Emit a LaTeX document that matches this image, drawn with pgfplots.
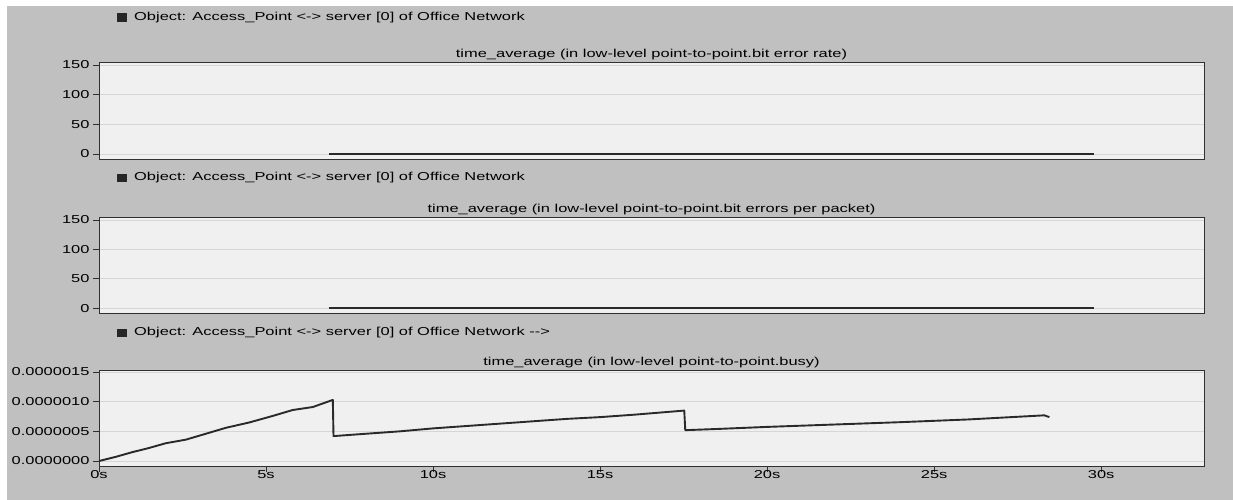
\documentclass[border=0pt]{standalone}
\usepackage{pgfplots}
\pgfplotsset{compat=1.18}
\usepackage{fontspec}
\setmainfont{Liberation Sans}
\usepackage{graphicx}
\definecolor{bggray}{HTML}{C0C0C0}
\definecolor{plotbg}{HTML}{F0F0F0}
\definecolor{gridc}{HTML}{D6D6D6}
\definecolor{framec}{HTML}{303030}
\definecolor{linec}{HTML}{2A2A2A}
\newcommand{\T}[1]{\scalebox{1.43}[1]{#1}}
\newcommand{\F}{\fontsize{11.5}{13}\selectfont}
\pgfplotsset{
  panel/.style={
    scale only axis, width=1105pt,
    xmin=0, xmax=33.08,
    anchor=north west,
    axis background/.style={fill=plotbg},
    axis line style={framec, line width=0.9pt},
    ymajorgrids, grid style={gridc, line width=0.8pt},
    tick align=outside,
    tick style={framec, line width=0.8pt},
    major tick length=6pt,
    xtick pos=bottom, ytick pos=left,
    tick label style={font=\F, text=black},
    scaled y ticks=false,
    title style={at={(0.5,1)}, anchor=center, yshift=1pt, inner sep=0pt, font=\F},
    clip=false,
  }
}
\begin{document}
\begin{tikzpicture}
\fill[white] (0,0) rectangle (1233pt,-500pt);
\fill[bggray] (7pt,-6pt) rectangle (1233pt,-500pt);

% headers
\fill[black!85] (117pt,-13.5pt) rectangle (127pt,-22pt);
\node[anchor=west, inner sep=0pt, font=\F] at (134pt,-18pt) {\T{Object: Access\_Point <-> server [0] of Office Network}};
\fill[black!85] (117pt,-173.5pt) rectangle (127pt,-182pt);
\node[anchor=west, inner sep=0pt, font=\F] at (134pt,-178pt) {\T{Object: Access\_Point <-> server [0] of Office Network}};
\fill[black!85] (117pt,-328.5pt) rectangle (127pt,-337pt);
\node[anchor=west, inner sep=0pt, font=\F] at (134pt,-333pt) {\T{Object: Access\_Point <-> server [0] of Office Network -{}->}};

% panel 1
\begin{axis}[panel, at={(99pt,-62pt)}, height=97pt,
  ymin=-8.4, ymax=155,
  ytick={0,50,100,150}, yticklabels={\T{0},\T{50},\T{100},\T{150}},
  xtick=\empty,
  title={\T{time\_average (in low-level point-to-point.bit error rate)}}]
\addplot[linec, line width=1.5pt] coordinates {(6.89,0) (29.8,0)};
\end{axis}

% panel 2
\begin{axis}[panel, at={(99pt,-217pt)}, height=96pt,
  ymin=-8.4, ymax=155,
  ytick={0,50,100,150}, yticklabels={\T{0},\T{50},\T{100},\T{150}},
  xtick=\empty,
  title={\T{time\_average (in low-level point-to-point.bit errors per packet)}}]
\addplot[linec, line width=1.5pt] coordinates {(6.89,0) (29.8,0)};
\end{axis}

% panel 3
\begin{axis}[panel, at={(99pt,-370pt)}, height=96pt,
  ymin=-0.084e-6, ymax=1.534e-6,
  ytick={0,0.5e-6,1e-6,1.5e-6},
  yticklabels={\T{0.0000000},\T{0.0000005},\T{0.0000010},\T{0.0000015}},
  xtick={0,5,10,15,20,25,30},
  xticklabels={\T{0s},\T{5s},\T{10s},\T{15s},\T{20s},\T{25s},\T{30s}},
  xticklabel style={yshift=5pt},
  title={\T{time\_average (in low-level point-to-point.busy)}}]
\addplot[linec, line width=1.9pt, line join=round] coordinates {
(0,0) (0.5,0.07e-6) (1.0,0.15e-6) (1.5,0.22e-6) (2.0,0.30e-6) (2.6,0.36e-6)
(3.2,0.46e-6) (3.8,0.56e-6) (4.5,0.65e-6) (5.2,0.76e-6) (5.8,0.86e-6)
(6.4,0.91e-6) (7.0,1.03e-6) (7.02,0.42e-6) (8,0.46e-6) (9,0.50e-6)
(10,0.55e-6) (11,0.59e-6) (12,0.63e-6) (13,0.67e-6) (14,0.71e-6)
(15,0.74e-6) (16,0.78e-6) (17.52,0.85e-6) (17.55,0.52e-6) (18.5,0.54e-6)
(20,0.575e-6) (22,0.615e-6) (24,0.655e-6) (26,0.70e-6) (28.3,0.77e-6)
(28.45,0.74e-6)};
\end{axis}
\pgfresetboundingbox
\useasboundingbox (0,0) rectangle (1233pt,-500pt);
\end{tikzpicture}
\end{document}
